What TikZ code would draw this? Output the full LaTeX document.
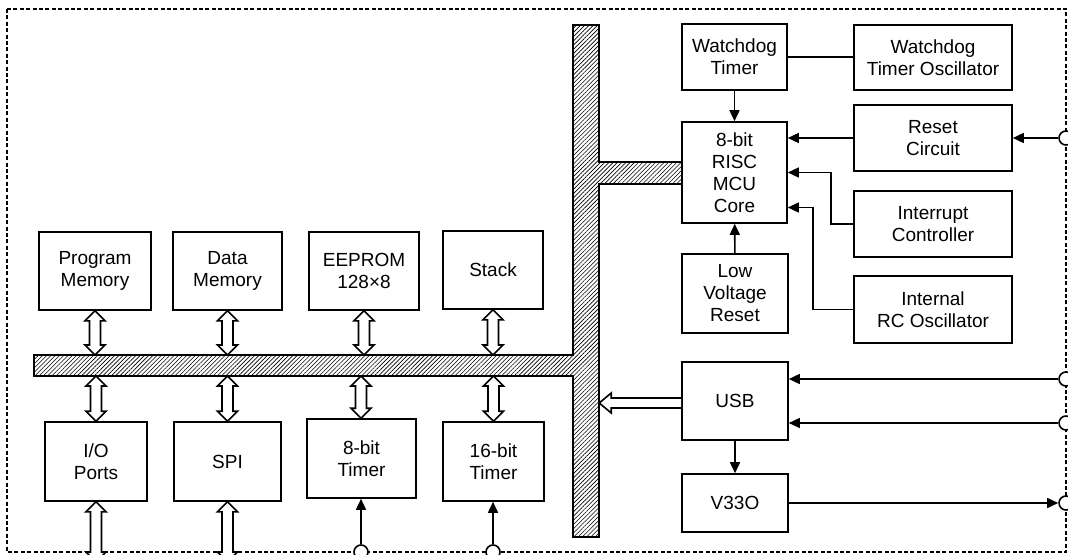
\documentclass[tikz,border=0pt]{standalone}
\usepackage{fontspec}
\setmainfont{Liberation Sans}
\usetikzlibrary{arrows.meta,patterns.meta,calc}

% hollow two-headed bus arrow, #1 upper end, #2 lower end
\newcommand{\dblarrow}[2]{%
  \draw[fill=white] (#1) -- ++(10,10) -- ++(-4.5,0) -- ($(#2)+(5.5,-10)$) -- ++(4.5,0) -- (#2)
    -- ++(-10,-10) -- ++(4.5,0) -- ($(#1)+(-5.5,10)$) -- ++(-4.5,0) -- cycle;}

\begin{document}
\begin{tikzpicture}[x=0.5pt, y=-0.5pt, line width=0.8pt, >={Triangle[length=5.5pt,width=5pt]},
    blk/.style={draw, fill=white, align=center, font=\fontsize{9.5}{11}\selectfont},
    port/.style={draw, fill=white, circle, inner sep=0pt, minimum size=7pt}]
  \useasboundingbox (0,0) rectangle (1068,555);
  \draw[line width=0.6pt, dash pattern=on 2pt off 1.2pt] (7,9) rectangle (1066,552);

  % internal bus
  \draw[pattern={Lines[angle=45,distance=1.5pt,line width=0.3pt]}]
    (34,355) -- (573,355) -- (573,25) -- (599,25) -- (599,162) -- (682,162) -- (682,184)
    -- (599,184) -- (599,537) -- (573,537) -- (573,376) -- (34,376) -- cycle;
  \coordinate (bt) at (0,355);
  \coordinate (bb) at (0,376);
  \coordinate (edge) at (0,562);

  \node[blk, minimum width=56pt, minimum height=39pt] (prog) at (95,271) {Program\\Memory};
  \node[blk, minimum width=54.5pt, minimum height=39pt] (data) at (227.5,271) {Data\\Memory};
  \node[blk, minimum width=55pt, minimum height=39pt] (eeprom) at (364,271) {EEPROM\\128×8};
  \node[blk, minimum width=50pt, minimum height=39pt] (stack) at (493,270) {Stack};
  \node[blk, minimum width=51pt, minimum height=39.5pt] (io) at (96,461.5) {I/O\\Ports};
  \node[blk, minimum width=53.5pt, minimum height=39.5pt] (spi) at (227.5,461.5) {SPI};
  \node[blk, minimum width=54.5pt, minimum height=39.5pt] (tmr8) at (361.5,458.5) {8-bit\\Timer};
  \node[blk, minimum width=50.5pt, minimum height=39.5pt] (tmr16) at (493.5,461.5) {16-bit\\Timer};

  \node[blk, minimum width=52.5pt, minimum height=33pt] (wdt) at (734.5,57) {Watchdog\\Timer};
  \node[blk, minimum width=79pt, minimum height=32.5pt] (wdto) at (933,57.5) {Watchdog\\Timer Oscillator};
  \node[blk, minimum width=52.5pt, minimum height=50.5pt] (mcu) at (734.5,172.5) {8-bit\\RISC\\MCU\\Core};
  \node[blk, minimum width=79pt, minimum height=33pt] (reset) at (933,138) {Reset\\Circuit};
  \node[blk, minimum width=79pt, minimum height=33pt] (intc) at (933,224) {Interrupt\\Controller};
  \node[blk, minimum width=79pt, minimum height=33.5pt] (rc) at (933,309.5) {Internal\\RC Oscillator};
  \node[blk, minimum width=53pt, minimum height=39.5pt] (lvr) at (735,293.5) {Low\\Voltage\\Reset};
  \node[blk, minimum width=53pt, minimum height=39pt] (usb) at (735,401) {USB};
  \node[blk, minimum width=53pt, minimum height=29pt] (v33) at (735,503) {V33O};

  % pins
  \node[port] (p1) at (1066,138) {};
  \node[port] (p2) at (1066,379) {};
  \node[port] (p3) at (1066,423) {};
  \node[port] (p4) at (1066,503) {};
  \node[port] (p5) at (361,552) {};
  \node[port] (p6) at (493,552) {};

  \dblarrow{prog.south}{prog.south |- bt}
  \dblarrow{data.south}{data.south |- bt}
  \dblarrow{eeprom.south}{eeprom.south |- bt}
  \dblarrow{stack.south}{stack.south |- bt}
  \dblarrow{io.north |- bb}{io.north}
  \dblarrow{spi.north |- bb}{spi.north}
  \dblarrow{p5 |- bb}{p5 |- tmr8.north}
  \dblarrow{tmr16.north |- bb}{tmr16.north}
  \dblarrow{io.south}{io.south |- edge}
  \dblarrow{spi.south}{spi.south |- edge}

  \draw[fill=white] ($(usb.west)+(0,-3)$) -- ++(-70,0) -- ++(0,-5) -- ($(usb.west)+(-82,2)$)
    -- ++(12,10) -- ++(0,-5) -- ($(usb.west)+(0,7)$);

  \draw (wdt.east) -- (wdt.east -| wdto.west);
  \draw[->] (wdt) -- (mcu);
  \draw[->] (lvr) -- (mcu);
  \draw[->] (reset.west) -- (reset.west -| mcu.east);
  \draw[->] (intc.west) -- ++(-22,0) |- (mcu.east);
  \draw[->] (rc.west) -- ++(-40,0) |- ($(mcu.east)+(0,35)$);
  \draw[->] (p1.west) -- (reset.east);
  \draw[->] (p2.west) -- (p2.west -| usb.east);
  \draw[->] (p3.west) -- (p3.west -| usb.east);
  \draw[->] (usb) -- (v33);
  \draw[->] (v33.east) -- (p4.west);
  \draw[->] (p5.north) -- (p5 |- tmr8.south);
  \draw[->] (p6.north) -- (p6 |- tmr16.south);
\end{tikzpicture}
\end{document}
